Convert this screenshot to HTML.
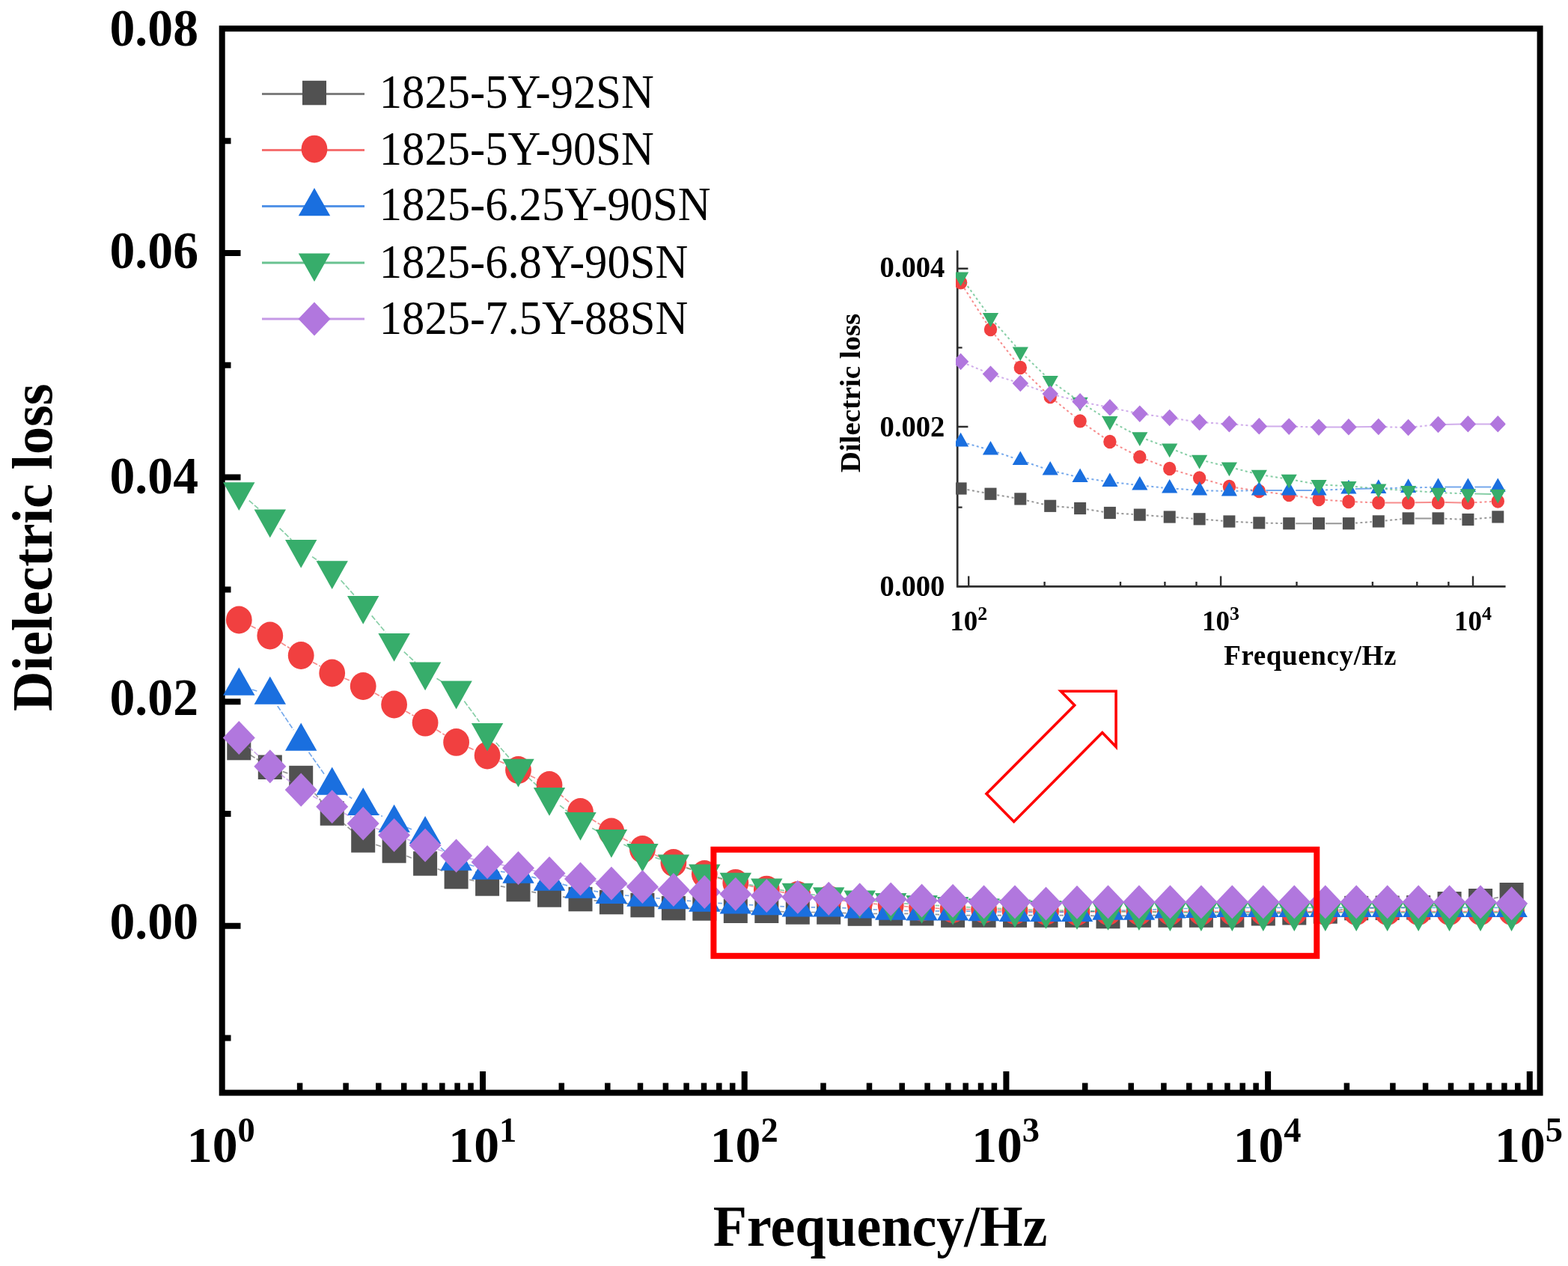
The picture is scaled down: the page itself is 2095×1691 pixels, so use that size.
<!DOCTYPE html>
<html lang="en"><head><meta charset="utf-8"><title>Dielectric loss vs Frequency</title>
<style>
html,body{margin:0;padding:0;background:#fff;}
body{width:2095px;height:1691px;overflow:hidden;}
svg{display:block;filter:blur(0.55px);}
text{font-family:"Liberation Serif","Times New Roman",serif;fill:#000;}
.b{font-weight:bold;}
</style></head><body>
<svg width="2095" height="1691" viewBox="0 0 2095 1691">
<rect width="2095" height="1691" fill="#fff"/>
<g id="main-axes" stroke="#000" fill="none">
<rect x="296.7" y="38.2" width="1760.9" height="1421.4" stroke-width="8"/>
<path d="M296.7 1236.8H321.5M296.7 937.2H321.5M296.7 637.6H321.5M296.7 338.1H321.5" stroke-width="8"/>
<path d="M296.7 1386.6H308.5M296.7 1087H308.5M296.7 787.4H308.5M296.7 487.8H308.5M296.7 188.3H308.5" stroke-width="8"/>
<path d="M645 1459.6V1431M994.7 1459.6V1431M1344.4 1459.6V1431M1694.1 1459.6V1431M2043.8 1459.6V1431" stroke-width="8"/>
<path d="M400.6 1459.6V1446.5M462.1 1459.6V1446.5M505.8 1459.6V1446.5M539.7 1459.6V1446.5M567.4 1459.6V1446.5M590.8 1459.6V1446.5M611.1 1459.6V1446.5M629 1459.6V1446.5M750.3 1459.6V1446.5M811.8 1459.6V1446.5M855.5 1459.6V1446.5M889.4 1459.6V1446.5M917.1 1459.6V1446.5M940.5 1459.6V1446.5M960.8 1459.6V1446.5M978.7 1459.6V1446.5M1100 1459.6V1446.5M1161.5 1459.6V1446.5M1205.2 1459.6V1446.5M1239.1 1459.6V1446.5M1266.8 1459.6V1446.5M1290.2 1459.6V1446.5M1310.5 1459.6V1446.5M1328.4 1459.6V1446.5M1449.7 1459.6V1446.5M1511.2 1459.6V1446.5M1554.9 1459.6V1446.5M1588.8 1459.6V1446.5M1616.5 1459.6V1446.5M1639.9 1459.6V1446.5M1660.2 1459.6V1446.5M1678.1 1459.6V1446.5M1799.4 1459.6V1446.5M1860.9 1459.6V1446.5M1904.6 1459.6V1446.5M1938.5 1459.6V1446.5M1966.2 1459.6V1446.5M1989.6 1459.6V1446.5M2009.9 1459.6V1446.5M2027.8 1459.6V1446.5" stroke-width="7.5"/>
</g>
<g id="main-data">
<path d="M334.6 1008.5L345.5 1015.3M377.8 1030.6L385.2 1033.2M414.1 1052.6L431.9 1072.9M457.3 1098.3L471.6 1110.7M502.2 1128.3L509.6 1130.7M543.3 1143.3L551.5 1146.7M584.7 1160.5L593 1164M627.1 1175L633.5 1176.5M668.8 1183.7L674.8 1184.8M710.2 1191.2L716.3 1192.3M751.8 1197.9L757.6 1198.6M793.4 1202.7L799 1203.3M834.9 1206.7L840.5 1207.3M876.3 1210.7L882 1211.3M917.9 1213.2L923.4 1213.3M959.3 1214.9L964.9 1215.4M1042.3 1217.5L1047.8 1217.8M1125.2 1219.4L1130.7 1219.7M1249.6 1221.3L1255.1 1221.6M1457 1223.2L1462.5 1223.4M1498.4 1223.4L1503.9 1223.2M1664.3 1221.6L1669.8 1221.3M1705.8 1219.8L1711.3 1219.7M1747.3 1218.5L1752.8 1218.2M1788.6 1215.6L1794.3 1214.9M1871.7 1212.5L1877.2 1212.4M1913 1210L1918.8 1209.4M1954.5 1205.5L1960.2 1204.9M1995.8 1199.8L2001.9 1198.6" stroke="#515151" stroke-width="1.7" fill="none" stroke-opacity="0.6" stroke-dasharray="7 2.5"/>
<path d="M1000.8 1216.8L1006.3 1216.8M1083.8 1218.5L1089.2 1218.5M1166.7 1220.5L1172.2 1220.4M1208.2 1220.3L1213.6 1220.3M1291.1 1222.6L1296.6 1222.6M1332.6 1222.6L1338 1222.6M1374 1222.6L1379.5 1222.6M1415.5 1222.6L1421 1222.6M1539.9 1222.6L1545.4 1222.6M1581.4 1222.6L1586.9 1222.6M1622.9 1222.6L1628.3 1222.6M1830.2 1212.9L1835.7 1212.8" stroke="#515151" stroke-width="1.7" fill="none" stroke-opacity="0.6"/>
<rect x="303.3" y="982.8" width="32" height="32.5" fill="#515151"/>
<rect x="344.8" y="1008.5" width="32" height="32.5" fill="#515151"/>
<rect x="386.2" y="1022.8" width="32" height="32.5" fill="#515151"/>
<rect x="427.7" y="1070.2" width="32" height="32.5" fill="#515151"/>
<rect x="469.2" y="1106.2" width="32" height="32.5" fill="#515151"/>
<rect x="510.6" y="1120.2" width="32" height="32.5" fill="#515151"/>
<rect x="552.1" y="1137.2" width="32" height="32.5" fill="#515151"/>
<rect x="593.6" y="1154.8" width="32" height="32.5" fill="#515151"/>
<rect x="635.1" y="1164.2" width="32" height="32.5" fill="#515151"/>
<rect x="676.5" y="1171.8" width="32" height="32.5" fill="#515151"/>
<rect x="718" y="1179.2" width="32" height="32.5" fill="#515151"/>
<rect x="759.5" y="1184.8" width="32" height="32.5" fill="#515151"/>
<rect x="800.9" y="1188.8" width="32" height="32.5" fill="#515151"/>
<rect x="842.4" y="1192.8" width="32" height="32.5" fill="#515151"/>
<rect x="883.9" y="1196.8" width="32" height="32.5" fill="#515151"/>
<rect x="925.3" y="1197.2" width="32" height="32.5" fill="#515151"/>
<rect x="966.8" y="1200.5" width="32" height="32.5" fill="#515151"/>
<rect x="1008.3" y="1200.5" width="32" height="32.5" fill="#515151"/>
<rect x="1049.8" y="1202.2" width="32" height="32.5" fill="#515151"/>
<rect x="1091.2" y="1202.2" width="32" height="32.5" fill="#515151"/>
<rect x="1132.7" y="1204.3" width="32" height="32.5" fill="#515151"/>
<rect x="1174.2" y="1204" width="32" height="32.5" fill="#515151"/>
<rect x="1215.6" y="1204" width="32" height="32.5" fill="#515151"/>
<rect x="1257.1" y="1206.3" width="32" height="32.5" fill="#515151"/>
<rect x="1298.6" y="1206.3" width="32" height="32.5" fill="#515151"/>
<rect x="1340" y="1206.3" width="32" height="32.5" fill="#515151"/>
<rect x="1381.5" y="1206.3" width="32" height="32.5" fill="#515151"/>
<rect x="1423" y="1206.3" width="32" height="32.5" fill="#515151"/>
<rect x="1464.5" y="1207.8" width="32" height="32.5" fill="#515151"/>
<rect x="1505.9" y="1206.3" width="32" height="32.5" fill="#515151"/>
<rect x="1547.4" y="1206.3" width="32" height="32.5" fill="#515151"/>
<rect x="1588.9" y="1206.3" width="32" height="32.5" fill="#515151"/>
<rect x="1630.3" y="1206.3" width="32" height="32.5" fill="#515151"/>
<rect x="1671.8" y="1204" width="32" height="32.5" fill="#515151"/>
<rect x="1713.3" y="1203" width="32" height="32.5" fill="#515151"/>
<rect x="1754.8" y="1201.2" width="32" height="32.5" fill="#515151"/>
<rect x="1796.2" y="1196.8" width="32" height="32.5" fill="#515151"/>
<rect x="1837.7" y="1196.5" width="32" height="32.5" fill="#515151"/>
<rect x="1879.2" y="1196" width="32" height="32.5" fill="#515151"/>
<rect x="1920.6" y="1191" width="32" height="32.5" fill="#515151"/>
<rect x="1962.1" y="1187" width="32" height="32.5" fill="#515151"/>
<rect x="2003.6" y="1179" width="32" height="32.5" fill="#515151"/>
<path d="M335.4 836.1L344.7 840.9M375.9 858.7L387.1 865.8M417.9 884.4L428 890.1M460.3 906L468.6 909.5M500.7 925.7L511.2 931.8M542.2 950.1L552.6 956.1M583.3 974.8L594.4 981.8M626.2 998.4L634.5 1002M667.3 1016.7L676.2 1020.8M708.7 1036.3L717.8 1040.7M747.6 1060.3L761.9 1072.7M790.6 1094.2L801.8 1101.3M832.6 1119.9L842.7 1125.6M874.9 1141.7L883.4 1145.3M916.8 1158.6L924.4 1161.4M958.7 1172.4L965.5 1174.4M1000.4 1183L1006.7 1184.4M1042 1191.2L1048 1192.3M1083.6 1197.7L1089.4 1198.5M1125.1 1202.9L1130.8 1203.5M1166.6 1207.2L1172.2 1207.7M1208.1 1210.6L1213.7 1211M1249.6 1213.2L1255.1 1213.5M1332.6 1215.5L1338.1 1215.7M1374 1216.8L1379.5 1216.9M1415.5 1217.6L1421 1217.6M1457 1217.8L1462.5 1217.8" stroke="#F14040" stroke-width="1.7" fill="none" stroke-opacity="0.6" stroke-dasharray="7 2.5"/>
<path d="M1291.1 1214.6L1296.6 1214.6M1498.5 1217.6L1503.9 1217.6M1539.9 1217.6L1545.4 1217.6M1581.4 1217.6L1586.9 1217.6M1622.9 1217.6L1628.3 1217.6M1664.3 1217.6L1669.8 1217.6M1705.8 1217.6L1711.3 1217.6M1747.3 1217.6L1752.8 1217.6M1788.8 1217.6L1794.2 1217.6M1830.2 1217.6L1835.7 1217.6M1871.7 1217.6L1877.2 1217.6M1913.2 1217.6L1918.6 1217.6M1954.6 1217.6L1960.1 1217.6M1996.1 1217.6L2001.6 1217.6" stroke="#F14040" stroke-width="1.7" fill="none" stroke-opacity="0.6"/>
<ellipse cx="319.3" cy="828" rx="17.4" ry="18.4" fill="#F14040"/>
<ellipse cx="360.8" cy="849" rx="17.4" ry="18.4" fill="#F14040"/>
<ellipse cx="402.2" cy="875.5" rx="17.4" ry="18.4" fill="#F14040"/>
<ellipse cx="443.7" cy="899" rx="17.4" ry="18.4" fill="#F14040"/>
<ellipse cx="485.2" cy="916.5" rx="17.4" ry="18.4" fill="#F14040"/>
<ellipse cx="526.6" cy="941" rx="17.4" ry="18.4" fill="#F14040"/>
<ellipse cx="568.1" cy="965.2" rx="17.4" ry="18.4" fill="#F14040"/>
<ellipse cx="609.6" cy="991.4" rx="17.4" ry="18.4" fill="#F14040"/>
<ellipse cx="651.1" cy="1009" rx="17.4" ry="18.4" fill="#F14040"/>
<ellipse cx="692.5" cy="1028.5" rx="17.4" ry="18.4" fill="#F14040"/>
<ellipse cx="734" cy="1048.5" rx="17.4" ry="18.4" fill="#F14040"/>
<ellipse cx="775.5" cy="1084.5" rx="17.4" ry="18.4" fill="#F14040"/>
<ellipse cx="816.9" cy="1111" rx="17.4" ry="18.4" fill="#F14040"/>
<ellipse cx="858.4" cy="1134.5" rx="17.4" ry="18.4" fill="#F14040"/>
<ellipse cx="899.9" cy="1152.5" rx="17.4" ry="18.4" fill="#F14040"/>
<ellipse cx="941.3" cy="1167.5" rx="17.4" ry="18.4" fill="#F14040"/>
<ellipse cx="982.8" cy="1179.3" rx="17.4" ry="18.4" fill="#F14040"/>
<ellipse cx="1024.3" cy="1188.1" rx="17.4" ry="18.4" fill="#F14040"/>
<ellipse cx="1065.8" cy="1195.4" rx="17.4" ry="18.4" fill="#F14040"/>
<ellipse cx="1107.2" cy="1200.9" rx="17.4" ry="18.4" fill="#F14040"/>
<ellipse cx="1148.7" cy="1205.5" rx="17.4" ry="18.4" fill="#F14040"/>
<ellipse cx="1190.2" cy="1209.4" rx="17.4" ry="18.4" fill="#F14040"/>
<ellipse cx="1231.6" cy="1212.3" rx="17.4" ry="18.4" fill="#F14040"/>
<ellipse cx="1273.1" cy="1214.5" rx="17.4" ry="18.4" fill="#F14040"/>
<ellipse cx="1314.6" cy="1214.8" rx="17.4" ry="18.4" fill="#F14040"/>
<ellipse cx="1356" cy="1216.4" rx="17.4" ry="18.4" fill="#F14040"/>
<ellipse cx="1397.5" cy="1217.2" rx="17.4" ry="18.4" fill="#F14040"/>
<ellipse cx="1439" cy="1218" rx="17.4" ry="18.4" fill="#F14040"/>
<ellipse cx="1480.5" cy="1217.6" rx="17.4" ry="18.4" fill="#F14040"/>
<ellipse cx="1521.9" cy="1217.6" rx="17.4" ry="18.4" fill="#F14040"/>
<ellipse cx="1563.4" cy="1217.6" rx="17.4" ry="18.4" fill="#F14040"/>
<ellipse cx="1604.9" cy="1217.6" rx="17.4" ry="18.4" fill="#F14040"/>
<ellipse cx="1646.3" cy="1217.6" rx="17.4" ry="18.4" fill="#F14040"/>
<ellipse cx="1687.8" cy="1217.6" rx="17.4" ry="18.4" fill="#F14040"/>
<ellipse cx="1729.3" cy="1217.6" rx="17.4" ry="18.4" fill="#F14040"/>
<ellipse cx="1770.8" cy="1217.6" rx="17.4" ry="18.4" fill="#F14040"/>
<ellipse cx="1812.2" cy="1217.6" rx="17.4" ry="18.4" fill="#F14040"/>
<ellipse cx="1853.7" cy="1217.6" rx="17.4" ry="18.4" fill="#F14040"/>
<ellipse cx="1895.2" cy="1217.6" rx="17.4" ry="18.4" fill="#F14040"/>
<ellipse cx="1936.6" cy="1217.6" rx="17.4" ry="18.4" fill="#F14040"/>
<ellipse cx="1978.1" cy="1217.6" rx="17.4" ry="18.4" fill="#F14040"/>
<ellipse cx="2019.6" cy="1217.6" rx="17.4" ry="18.4" fill="#F14040"/>
<path d="M336.6 921L343.5 923M370.8 943L392.2 975M412.6 1004.7L433.4 1034.3M458.7 1058.9L470.2 1066.5M501 1085L510.8 1090.4M543.5 1105.3L551.2 1108.1M581.8 1126.1L595.9 1138.3M626.9 1155L633.8 1157M668.9 1164.2L674.7 1164.8M710 1171.2L716.5 1172.8M751.5 1181.2L758 1182.8M793.2 1190.2L799.2 1191.2M834.9 1196L840.5 1196.4M876.3 1199.6L881.9 1200M917.8 1203.1L923.4 1203.5M959.3 1206.3L964.9 1206.6M1000.8 1208.6L1006.3 1208.9M1042.3 1210.6L1047.8 1210.8M1125.2 1212.7L1130.7 1212.9M1166.7 1214.8L1172.2 1215M1208.2 1216.3L1213.6 1216.5M1291.1 1217.1L1296.6 1217.2M1332.6 1217.8L1338.1 1218M1457 1217.3L1462.5 1217M1539.9 1215L1545.4 1214.7M1581.4 1213.5L1586.9 1213.5M1622.9 1212.9L1628.3 1212.7" stroke="#1A6FDF" stroke-width="1.7" fill="none" stroke-opacity="0.6" stroke-dasharray="7 2.5"/>
<path d="M1083.8 1211.8L1089.2 1211.8M1249.6 1216.8L1255.1 1216.8M1374 1218.3L1379.5 1218.3M1415.5 1218.3L1421 1218.3M1498.5 1216L1503.9 1216M1664.3 1212.3L1669.8 1212.3M1705.8 1212.3L1711.3 1212.3M1747.3 1212.3L1752.8 1212.3M1788.8 1212.3L1794.2 1212.3M1830.2 1212.3L1835.7 1212.3M1871.7 1212.3L1877.2 1212.3M1913.2 1212.3L1918.6 1212.3M1954.6 1212.3L1960.1 1212.3M1996.1 1212.3L2001.6 1212.3" stroke="#1A6FDF" stroke-width="1.7" fill="none" stroke-opacity="0.6"/>
<polygon points="319.3,891.5 340.5,928.7 298.1,928.7" fill="#1A6FDF"/>
<polygon points="360.8,903.5 382,940.7 339.6,940.7" fill="#1A6FDF"/>
<polygon points="402.2,965.5 423.4,1002.7 381,1002.7" fill="#1A6FDF"/>
<polygon points="443.7,1024.5 464.9,1061.7 422.5,1061.7" fill="#1A6FDF"/>
<polygon points="485.2,1051.9 506.4,1089.1 464,1089.1" fill="#1A6FDF"/>
<polygon points="526.6,1074.5 547.9,1111.7 505.4,1111.7" fill="#1A6FDF"/>
<polygon points="568.1,1089.9 589.3,1127.1 546.9,1127.1" fill="#1A6FDF"/>
<polygon points="609.6,1125.5 630.8,1162.7 588.4,1162.7" fill="#1A6FDF"/>
<polygon points="651.1,1137.5 672.3,1174.7 629.9,1174.7" fill="#1A6FDF"/>
<polygon points="692.5,1142.5 713.7,1179.7 671.3,1179.7" fill="#1A6FDF"/>
<polygon points="734,1152.5 755.2,1189.7 712.8,1189.7" fill="#1A6FDF"/>
<polygon points="775.5,1162.5 796.7,1199.7 754.3,1199.7" fill="#1A6FDF"/>
<polygon points="816.9,1169.9 838.1,1207.1 795.7,1207.1" fill="#1A6FDF"/>
<polygon points="858.4,1173.5 879.6,1210.7 837.2,1210.7" fill="#1A6FDF"/>
<polygon points="899.9,1177.1 921.1,1214.3 878.7,1214.3" fill="#1A6FDF"/>
<polygon points="941.3,1180.5 962.5,1217.7 920.1,1217.7" fill="#1A6FDF"/>
<polygon points="982.8,1183.4 1004,1220.6 961.6,1220.6" fill="#1A6FDF"/>
<polygon points="1024.3,1185.1 1045.5,1222.3 1003.1,1222.3" fill="#1A6FDF"/>
<polygon points="1065.8,1187.3 1087,1224.5 1044.6,1224.5" fill="#1A6FDF"/>
<polygon points="1107.2,1187.3 1128.4,1224.5 1086,1224.5" fill="#1A6FDF"/>
<polygon points="1148.7,1189.3 1169.9,1226.5 1127.5,1226.5" fill="#1A6FDF"/>
<polygon points="1190.2,1191.5 1211.4,1228.7 1169,1228.7" fill="#1A6FDF"/>
<polygon points="1231.6,1192.3 1252.8,1229.5 1210.4,1229.5" fill="#1A6FDF"/>
<polygon points="1273.1,1192.3 1294.3,1229.5 1251.9,1229.5" fill="#1A6FDF"/>
<polygon points="1314.6,1193 1335.8,1230.2 1293.4,1230.2" fill="#1A6FDF"/>
<polygon points="1356,1193.8 1377.2,1231 1334.8,1231" fill="#1A6FDF"/>
<polygon points="1397.5,1193.8 1418.7,1231 1376.3,1231" fill="#1A6FDF"/>
<polygon points="1439,1193.8 1460.2,1231 1417.8,1231" fill="#1A6FDF"/>
<polygon points="1480.5,1191.5 1501.7,1228.7 1459.3,1228.7" fill="#1A6FDF"/>
<polygon points="1521.9,1191.5 1543.1,1228.7 1500.7,1228.7" fill="#1A6FDF"/>
<polygon points="1563.4,1189.2 1584.6,1226.4 1542.2,1226.4" fill="#1A6FDF"/>
<polygon points="1604.9,1188.8 1626.1,1226 1583.7,1226" fill="#1A6FDF"/>
<polygon points="1646.3,1187.8 1667.5,1225 1625.1,1225" fill="#1A6FDF"/>
<polygon points="1687.8,1187.8 1709,1225 1666.6,1225" fill="#1A6FDF"/>
<polygon points="1729.3,1187.8 1750.5,1225 1708.1,1225" fill="#1A6FDF"/>
<polygon points="1770.8,1187.8 1792,1225 1749.5,1225" fill="#1A6FDF"/>
<polygon points="1812.2,1187.8 1833.4,1225 1791,1225" fill="#1A6FDF"/>
<polygon points="1853.7,1187.8 1874.9,1225 1832.5,1225" fill="#1A6FDF"/>
<polygon points="1895.2,1187.8 1916.4,1225 1874,1225" fill="#1A6FDF"/>
<polygon points="1936.6,1187.8 1957.8,1225 1915.4,1225" fill="#1A6FDF"/>
<polygon points="1978.1,1187.8 1999.3,1225 1956.9,1225" fill="#1A6FDF"/>
<polygon points="2019.6,1187.8 2040.8,1225 1998.4,1225" fill="#1A6FDF"/>
<path d="M332.8 668.6L347.2 681.1M373.6 705.6L389.4 720.9M417.1 743.6L428.8 751.6M455.6 775.2L473.2 795M496.7 822.4L515.2 844.6M539.8 870.7L554.9 884.8M583.5 906.3L594.2 912.7M620.3 936.5L640.4 963.9M662.8 992L680.7 1012.7M705.8 1038.5L720.8 1052.4M748.1 1075.8L761.4 1086.4M791.2 1106.3L801.2 1111.8M833.3 1128L842 1132M875.4 1145.4L882.9 1148.1M917.1 1159.4L924.2 1161.6M958.7 1171.7L965.4 1173.5M1000.5 1181.5L1006.6 1182.6M1042.1 1188.7L1048 1189.6M1083.6 1194.7L1089.4 1195.5M1125.1 1199.6L1130.8 1200.1M1166.6 1203.4L1172.2 1203.9M1208.1 1206.8L1213.7 1207.2M1249.6 1209.4L1255.1 1209.7M1291.1 1211.6L1296.6 1211.8M1332.6 1213.4L1338.1 1213.6M1374 1214.8L1379.5 1215M1415.5 1216L1421 1216.1M1457 1216.9L1462.5 1217.1M1539.9 1218.2L1545.4 1218.4" stroke="#37AD6B" stroke-width="1.7" fill="none" stroke-opacity="0.6" stroke-dasharray="7 2.5"/>
<path d="M1498.5 1217.6L1503.9 1217.7M1581.4 1218.8L1586.9 1218.8M1622.9 1218.8L1628.3 1218.8M1664.3 1218.8L1669.8 1218.8M1705.8 1218.8L1711.3 1218.8M1747.3 1218.8L1752.8 1218.8M1788.8 1218.8L1794.2 1218.8M1830.2 1218.8L1835.7 1218.8M1871.7 1218.8L1877.2 1218.8M1913.2 1218.8L1918.6 1218.8M1954.6 1218.8L1960.1 1218.8M1996.1 1218.8L2001.6 1218.8" stroke="#37AD6B" stroke-width="1.7" fill="none" stroke-opacity="0.6"/>
<polygon points="319.3,681.9 340.5,644.2 298.1,644.2" fill="#37AD6B"/>
<polygon points="360.8,718.2 382,680.5 339.6,680.5" fill="#37AD6B"/>
<polygon points="402.2,758.7 423.4,721 381,721" fill="#37AD6B"/>
<polygon points="443.7,786.9 464.9,749.2 422.5,749.2" fill="#37AD6B"/>
<polygon points="485.2,833.7 506.4,796 464,796" fill="#37AD6B"/>
<polygon points="526.6,883.7 547.9,846 505.4,846" fill="#37AD6B"/>
<polygon points="568.1,922.2 589.3,884.5 546.9,884.5" fill="#37AD6B"/>
<polygon points="609.6,947.2 630.8,909.5 588.4,909.5" fill="#37AD6B"/>
<polygon points="651.1,1003.6 672.3,965.9 629.9,965.9" fill="#37AD6B"/>
<polygon points="692.5,1051.5 713.7,1013.8 671.3,1013.8" fill="#37AD6B"/>
<polygon points="734,1089.8 755.2,1052.1 712.8,1052.1" fill="#37AD6B"/>
<polygon points="775.5,1122.8 796.7,1085.1 754.3,1085.1" fill="#37AD6B"/>
<polygon points="816.9,1145.7 838.1,1108 795.7,1108" fill="#37AD6B"/>
<polygon points="858.4,1164.7 879.6,1127 837.2,1127" fill="#37AD6B"/>
<polygon points="899.9,1179.2 921.1,1141.5 878.7,1141.5" fill="#37AD6B"/>
<polygon points="941.3,1192.2 962.5,1154.5 920.1,1154.5" fill="#37AD6B"/>
<polygon points="982.8,1203.4 1004,1165.7 961.6,1165.7" fill="#37AD6B"/>
<polygon points="1024.3,1211.1 1045.5,1173.4 1003.1,1173.4" fill="#37AD6B"/>
<polygon points="1065.8,1217.5 1087,1179.8 1044.6,1179.8" fill="#37AD6B"/>
<polygon points="1107.2,1223 1128.4,1185.3 1086,1185.3" fill="#37AD6B"/>
<polygon points="1148.7,1227.1 1169.9,1189.4 1127.5,1189.4" fill="#37AD6B"/>
<polygon points="1190.2,1230.7 1211.4,1193 1169,1193" fill="#37AD6B"/>
<polygon points="1231.6,1233.7 1252.8,1196 1210.4,1196" fill="#37AD6B"/>
<polygon points="1273.1,1235.8 1294.3,1198.1 1251.9,1198.1" fill="#37AD6B"/>
<polygon points="1314.6,1238 1335.8,1200.3 1293.4,1200.3" fill="#37AD6B"/>
<polygon points="1356,1239.4 1377.2,1201.7 1334.8,1201.7" fill="#37AD6B"/>
<polygon points="1397.5,1240.8 1418.7,1203.1 1376.3,1203.1" fill="#37AD6B"/>
<polygon points="1439,1241.7 1460.2,1204 1417.8,1204" fill="#37AD6B"/>
<polygon points="1480.5,1242.7 1501.7,1205 1459.3,1205" fill="#37AD6B"/>
<polygon points="1521.9,1243 1543.1,1205.3 1500.7,1205.3" fill="#37AD6B"/>
<polygon points="1563.4,1244 1584.6,1206.3 1542.2,1206.3" fill="#37AD6B"/>
<polygon points="1604.9,1244 1626.1,1206.3 1583.7,1206.3" fill="#37AD6B"/>
<polygon points="1646.3,1244 1667.5,1206.3 1625.1,1206.3" fill="#37AD6B"/>
<polygon points="1687.8,1244 1709,1206.3 1666.6,1206.3" fill="#37AD6B"/>
<polygon points="1729.3,1244 1750.5,1206.3 1708.1,1206.3" fill="#37AD6B"/>
<polygon points="1770.8,1244 1792,1206.3 1749.5,1206.3" fill="#37AD6B"/>
<polygon points="1812.2,1244 1833.4,1206.3 1791,1206.3" fill="#37AD6B"/>
<polygon points="1853.7,1244 1874.9,1206.3 1832.5,1206.3" fill="#37AD6B"/>
<polygon points="1895.2,1244 1916.4,1206.3 1874,1206.3" fill="#37AD6B"/>
<polygon points="1936.6,1244 1957.8,1206.3 1915.4,1206.3" fill="#37AD6B"/>
<polygon points="1978.1,1244 1999.3,1206.3 1956.9,1206.3" fill="#37AD6B"/>
<polygon points="2019.6,1244 2040.8,1206.3 1998.4,1206.3" fill="#37AD6B"/>
<path d="M332.6 997.8L347.5 1011.5M375.1 1034.5L387.9 1044.2M418.1 1063.6L427.9 1068.9M459.5 1086.1L469.4 1091.4M502.1 1106.3L509.8 1109.1M543.8 1121L551 1123.4M585.2 1134.8L592.5 1137.2M627.2 1146.6L633.4 1147.9M668.7 1154.9L674.9 1156.1M710.3 1162.5L716.3 1163.5M751.7 1169.7L757.8 1170.8M793.3 1176.6L799.1 1177.4M834.8 1181.9L840.5 1182.6M876.3 1186.2L882 1186.8M917.8 1189.8L923.4 1190.2M959.3 1192.7L964.9 1193M1000.8 1195.2L1006.3 1195.6M1042.3 1197.3L1047.8 1197.6M1083.7 1199.2L1089.3 1199.5M1125.2 1201L1130.7 1201.2M1166.7 1201.5L1172.2 1201.3M1208.1 1201.9L1213.7 1202.1M1291.1 1204L1296.6 1204.1M1374 1205.8L1379.5 1206M1415.5 1206.3L1421 1206M1457 1205.1L1462.5 1205M1996.1 1205.7L2001.6 1205.9" stroke="#B177DE" stroke-width="1.7" fill="none" stroke-opacity="0.6" stroke-dasharray="7 2.5"/>
<path d="M1249.6 1203.1L1255.1 1203.2M1332.6 1204.8L1338 1204.8M1498.5 1204.8L1503.9 1204.8M1539.9 1204.8L1545.4 1204.8M1581.4 1204.8L1586.9 1204.8M1622.9 1204.8L1628.3 1204.8M1664.3 1204.8L1669.8 1204.8M1705.8 1204.8L1711.3 1204.8M1747.3 1204.8L1752.8 1204.8M1788.8 1204.8L1794.2 1204.8M1830.2 1204.8L1835.7 1204.8M1871.7 1204.8L1877.2 1204.8M1913.2 1204.8L1918.6 1204.8M1954.6 1204.8L1960.1 1204.8" stroke="#B177DE" stroke-width="1.7" fill="none" stroke-opacity="0.6"/>
<polygon points="319.3,963.1 340.8,985.6 319.3,1008.1 297.8,985.6" fill="#B177DE"/>
<polygon points="360.8,1001.2 382.3,1023.7 360.8,1046.2 339.3,1023.7" fill="#B177DE"/>
<polygon points="402.2,1032.5 423.7,1055 402.2,1077.5 380.7,1055" fill="#B177DE"/>
<polygon points="443.7,1055 465.2,1077.5 443.7,1100 422.2,1077.5" fill="#B177DE"/>
<polygon points="485.2,1077.5 506.7,1100 485.2,1122.5 463.7,1100" fill="#B177DE"/>
<polygon points="526.6,1092.9 548.1,1115.4 526.6,1137.9 505.1,1115.4" fill="#B177DE"/>
<polygon points="568.1,1106.5 589.6,1129 568.1,1151.5 546.6,1129" fill="#B177DE"/>
<polygon points="609.6,1120.5 631.1,1143 609.6,1165.5 588.1,1143" fill="#B177DE"/>
<polygon points="651.1,1129 672.6,1151.5 651.1,1174 629.6,1151.5" fill="#B177DE"/>
<polygon points="692.5,1137 714,1159.5 692.5,1182 671,1159.5" fill="#B177DE"/>
<polygon points="734,1144 755.5,1166.5 734,1189 712.5,1166.5" fill="#B177DE"/>
<polygon points="775.5,1151.5 797,1174 775.5,1196.5 754,1174" fill="#B177DE"/>
<polygon points="816.9,1157.5 838.4,1180 816.9,1202.5 795.4,1180" fill="#B177DE"/>
<polygon points="858.4,1162 879.9,1184.5 858.4,1207 836.9,1184.5" fill="#B177DE"/>
<polygon points="899.9,1166 921.4,1188.5 899.9,1211 878.4,1188.5" fill="#B177DE"/>
<polygon points="941.3,1169 962.8,1191.5 941.3,1214 919.8,1191.5" fill="#B177DE"/>
<polygon points="982.8,1171.7 1004.3,1194.2 982.8,1216.7 961.3,1194.2" fill="#B177DE"/>
<polygon points="1024.3,1174.1 1045.8,1196.6 1024.3,1219.1 1002.8,1196.6" fill="#B177DE"/>
<polygon points="1065.8,1175.8 1087.3,1198.3 1065.8,1220.8 1044.3,1198.3" fill="#B177DE"/>
<polygon points="1107.2,1177.8 1128.7,1200.3 1107.2,1222.8 1085.7,1200.3" fill="#B177DE"/>
<polygon points="1148.7,1179.3 1170.2,1201.8 1148.7,1224.3 1127.2,1201.8" fill="#B177DE"/>
<polygon points="1190.2,1178.5 1211.7,1201 1190.2,1223.5 1168.7,1201" fill="#B177DE"/>
<polygon points="1231.6,1180.5 1253.1,1203 1231.6,1225.5 1210.1,1203" fill="#B177DE"/>
<polygon points="1273.1,1180.8 1294.6,1203.3 1273.1,1225.8 1251.6,1203.3" fill="#B177DE"/>
<polygon points="1314.6,1182.3 1336.1,1204.8 1314.6,1227.3 1293.1,1204.8" fill="#B177DE"/>
<polygon points="1356,1182.3 1377.5,1204.8 1356,1227.3 1334.5,1204.8" fill="#B177DE"/>
<polygon points="1397.5,1184.5 1419,1207 1397.5,1229.5 1376,1207" fill="#B177DE"/>
<polygon points="1439,1182.8 1460.5,1205.3 1439,1227.8 1417.5,1205.3" fill="#B177DE"/>
<polygon points="1480.5,1182.3 1502,1204.8 1480.5,1227.3 1459,1204.8" fill="#B177DE"/>
<polygon points="1521.9,1182.3 1543.4,1204.8 1521.9,1227.3 1500.4,1204.8" fill="#B177DE"/>
<polygon points="1563.4,1182.3 1584.9,1204.8 1563.4,1227.3 1541.9,1204.8" fill="#B177DE"/>
<polygon points="1604.9,1182.3 1626.4,1204.8 1604.9,1227.3 1583.4,1204.8" fill="#B177DE"/>
<polygon points="1646.3,1182.3 1667.8,1204.8 1646.3,1227.3 1624.8,1204.8" fill="#B177DE"/>
<polygon points="1687.8,1182.3 1709.3,1204.8 1687.8,1227.3 1666.3,1204.8" fill="#B177DE"/>
<polygon points="1729.3,1182.3 1750.8,1204.8 1729.3,1227.3 1707.8,1204.8" fill="#B177DE"/>
<polygon points="1770.8,1182.3 1792.2,1204.8 1770.8,1227.3 1749.2,1204.8" fill="#B177DE"/>
<polygon points="1812.2,1182.3 1833.7,1204.8 1812.2,1227.3 1790.7,1204.8" fill="#B177DE"/>
<polygon points="1853.7,1182.3 1875.2,1204.8 1853.7,1227.3 1832.2,1204.8" fill="#B177DE"/>
<polygon points="1895.2,1182.3 1916.7,1204.8 1895.2,1227.3 1873.7,1204.8" fill="#B177DE"/>
<polygon points="1936.6,1182.3 1958.1,1204.8 1936.6,1227.3 1915.1,1204.8" fill="#B177DE"/>
<polygon points="1978.1,1182.3 1999.6,1204.8 1978.1,1227.3 1956.6,1204.8" fill="#B177DE"/>
<polygon points="2019.6,1184.3 2041.1,1206.8 2019.6,1229.3 1998.1,1206.8" fill="#B177DE"/>
</g>
<rect x="953.4" y="1134.8" width="805.9" height="142" fill="none" stroke="#FF0000" stroke-width="8"/>
<polygon points="1318,1060.2 1435.7,942 1417.4,923.3 1491.1,923.3 1491.1,997.6 1472.8,978.5 1354.7,1097.5" fill="none" stroke="#FF0000" stroke-width="3.6" stroke-linejoin="miter"/>
<g class="b" font-size="67.7" text-anchor="end">
<text transform="translate(265,1253.9) scale(1,1.025)">0.00</text>
<text transform="translate(265,954.9) scale(1,1.025)">0.02</text>
<text transform="translate(265,659) scale(1,1.025)">0.04</text>
<text transform="translate(265,357.9) scale(1,1.025)">0.06</text>
<text transform="translate(265,60.5) scale(1,1.025)">0.08</text>
</g>
<g class="b" font-size="67.7" text-anchor="middle">
<text transform="translate(295.3,1552) scale(1,1.012)">10<tspan font-size="46.5" dy="-26.6">0</tspan></text>
<text transform="translate(644.8,1552) scale(1,1.012)">10<tspan font-size="46.5" dy="-26.6">1</tspan></text>
<text transform="translate(994.2,1552) scale(1,1.012)">10<tspan font-size="46.5" dy="-26.6">2</tspan></text>
<text transform="translate(1343.6,1552) scale(1,1.012)">10<tspan font-size="46.5" dy="-26.6">3</tspan></text>
<text transform="translate(1693.1,1552) scale(1,1.012)">10<tspan font-size="46.5" dy="-26.6">4</tspan></text>
<text transform="translate(2042.5,1552) scale(1,1.012)">10<tspan font-size="46.5" dy="-26.6">5</tspan></text>
</g>
<text class="b" font-size="74" transform="translate(1176,1664) scale(1,1.045)" text-anchor="middle">Frequency/Hz</text>
<text class="b" font-size="74" transform="translate(69.3,731.2) rotate(-90) scale(1,1.03)" text-anchor="middle">Dielectric loss</text>
<g id="legend">
<path d="M350 125.6H487" stroke="#515151" stroke-width="3" stroke-opacity="0.75" fill="none"/>
<rect x="404" y="107.8" width="32" height="32.5" fill="#515151"/>
<text font-size="60.6" transform="translate(506.8,144.3) scale(1,1.04)">1825-5Y-92SN</text>
<path d="M350 200.6H487" stroke="#F14040" stroke-width="3" stroke-opacity="0.75" fill="none"/>
<ellipse cx="420" cy="199.1" rx="17.4" ry="18.4" fill="#F14040"/>
<text font-size="60.6" transform="translate(506.8,219.6) scale(1,1.04)">1825-5Y-90SN</text>
<path d="M350 275.6H487" stroke="#1A6FDF" stroke-width="3" stroke-opacity="0.75" fill="none"/>
<polygon points="420,251.1 441.2,288.3 398.8,288.3" fill="#1A6FDF"/>
<text font-size="60.6" transform="translate(506.8,294.2) scale(1,1.04)">1825-6.25Y-90SN</text>
<path d="M350 351H487" stroke="#37AD6B" stroke-width="3" stroke-opacity="0.75" fill="none"/>
<polygon points="420,376.2 441.2,338.5 398.8,338.5" fill="#37AD6B"/>
<text font-size="60.6" transform="translate(506.8,371.4) scale(1,1.04)">1825-6.8Y-90SN</text>
<path d="M350 426H487" stroke="#B177DE" stroke-width="3" stroke-opacity="0.75" fill="none"/>
<polygon points="420,403.5 441.5,426 420,448.5 398.5,426" fill="#B177DE"/>
<text font-size="60.6" transform="translate(506.8,446) scale(1,1.04)">1825-7.5Y-88SN</text>
</g>
<g id="inset">
<g stroke="#2e2e2e" fill="none">
<path d="M1279.2 334.4V783.4H2011.6" stroke-width="2.7" stroke-linejoin="miter"/>
<path d="M1279.2 358.7H1293.4M1279.2 570H1293.4M1279.2 783.4H1293.4M1279.2 464.4H1285.6M1279.2 677.6H1285.6M1294.2 783.4V769.6M1631.1 783.4V769.6M1968 783.4V769.6M1395.6 783.4V777M1497 783.4V777M1556.4 783.4V777M1598.5 783.4V777M1732.5 783.4V777M1833.9 783.4V777M1893.3 783.4V777M1935.4 783.4V777" stroke-width="2.4"/>
</g>
<clipPath id="ic"><rect x="1277" y="330" width="734.6" height="460"/></clipPath>
<g clip-path="url(#ic)">
<path d="M1292.5 654.1L1314.6 658.1M1332.3 661.2L1354.5 664.9M1372.1 668.5L1394.5 673.7M1412.2 676.5L1434.1 678.3M1452 680.3L1474.1 683.7M1491.9 685.6L1513.8 687M1531.8 688.3L1553.7 689.8M1571.7 691.1L1593.6 692.7M1611.5 694L1633.5 695.8M1651.4 696.9L1673.3 698M1691.3 698.6L1713.2 699M1810.9 698.6L1832.8 697M1850.7 695.5L1872.7 693.3M1930.5 692.8L1952.4 693.6M1970.4 693.2L1992.3 691.2" stroke="#515151" stroke-width="2.0" fill="none" stroke-opacity="0.6" stroke-dasharray="3 3.5"/>
<path d="M1731.2 699.2L1753 699.2M1771 699.2L1792.9 699.2M1890.6 692.4L1912.5 692.4" stroke="#515151" stroke-width="2.0" fill="none" stroke-opacity="0.6"/>
<rect x="1275.6" y="644.4" width="16" height="16.2" fill="#515151"/>
<rect x="1315.5" y="651.6" width="16" height="16.2" fill="#515151"/>
<rect x="1355.3" y="658.3" width="16" height="16.2" fill="#515151"/>
<rect x="1395.2" y="667.7" width="16" height="16.2" fill="#515151"/>
<rect x="1435.1" y="670.9" width="16" height="16.2" fill="#515151"/>
<rect x="1474.9" y="676.9" width="16" height="16.2" fill="#515151"/>
<rect x="1514.8" y="679.5" width="16" height="16.2" fill="#515151"/>
<rect x="1554.7" y="682.4" width="16" height="16.2" fill="#515151"/>
<rect x="1594.6" y="685.2" width="16" height="16.2" fill="#515151"/>
<rect x="1634.4" y="688.4" width="16" height="16.2" fill="#515151"/>
<rect x="1674.3" y="690.3" width="16" height="16.2" fill="#515151"/>
<rect x="1714.2" y="691.1" width="16" height="16.2" fill="#515151"/>
<rect x="1754" y="691.1" width="16" height="16.2" fill="#515151"/>
<rect x="1793.9" y="691.1" width="16" height="16.2" fill="#515151"/>
<rect x="1833.8" y="688.3" width="16" height="16.2" fill="#515151"/>
<rect x="1873.6" y="684.3" width="16" height="16.2" fill="#515151"/>
<rect x="1913.5" y="684.3" width="16" height="16.2" fill="#515151"/>
<rect x="1953.4" y="685.9" width="16" height="16.2" fill="#515151"/>
<rect x="1993.3" y="682.3" width="16" height="16.2" fill="#515151"/>
<path d="M1288.4 385L1318.6 432.4M1329 447.1L1357.8 483.9M1369.8 497.3L1396.8 523.7M1410.2 535.7L1436.1 556.7M1450.5 567.5L1475.6 584.9M1491 594.1L1514.8 606.3M1531.2 613.7L1554.3 622.7M1571.3 628.7L1594 635.7M1611.2 640.9L1633.8 647.5M1651.3 651.3L1673.4 654.7M1691.2 657.1L1713.2 659.9M1731.1 662.3L1753.1 665.7M1771 667.7L1792.9 669.3M1810.9 670.3L1832.8 671.1M1970.4 671.1L1992.3 670.1" stroke="#F14040" stroke-width="2.0" fill="none" stroke-opacity="0.6" stroke-dasharray="3 3.5"/>
<path d="M1850.8 671.4L1872.6 671.4M1890.6 671.3L1912.5 671.1M1930.5 671.1L1952.4 671.5" stroke="#F14040" stroke-width="2.0" fill="none" stroke-opacity="0.6"/>
<ellipse cx="1283.6" cy="377.4" rx="8.7" ry="9.2" fill="#F14040"/>
<ellipse cx="1323.5" cy="440" rx="8.7" ry="9.2" fill="#F14040"/>
<ellipse cx="1363.3" cy="491" rx="8.7" ry="9.2" fill="#F14040"/>
<ellipse cx="1403.2" cy="530" rx="8.7" ry="9.2" fill="#F14040"/>
<ellipse cx="1443.1" cy="562.4" rx="8.7" ry="9.2" fill="#F14040"/>
<ellipse cx="1482.9" cy="590" rx="8.7" ry="9.2" fill="#F14040"/>
<ellipse cx="1522.8" cy="610.4" rx="8.7" ry="9.2" fill="#F14040"/>
<ellipse cx="1562.7" cy="626" rx="8.7" ry="9.2" fill="#F14040"/>
<ellipse cx="1602.6" cy="638.4" rx="8.7" ry="9.2" fill="#F14040"/>
<ellipse cx="1642.4" cy="650" rx="8.7" ry="9.2" fill="#F14040"/>
<ellipse cx="1682.3" cy="656" rx="8.7" ry="9.2" fill="#F14040"/>
<ellipse cx="1722.2" cy="661" rx="8.7" ry="9.2" fill="#F14040"/>
<ellipse cx="1762" cy="667" rx="8.7" ry="9.2" fill="#F14040"/>
<ellipse cx="1801.9" cy="670" rx="8.7" ry="9.2" fill="#F14040"/>
<ellipse cx="1841.8" cy="671.4" rx="8.7" ry="9.2" fill="#F14040"/>
<ellipse cx="1881.6" cy="671.4" rx="8.7" ry="9.2" fill="#F14040"/>
<ellipse cx="1921.5" cy="671" rx="8.7" ry="9.2" fill="#F14040"/>
<ellipse cx="1961.4" cy="671.6" rx="8.7" ry="9.2" fill="#F14040"/>
<ellipse cx="2001.3" cy="669.6" rx="8.7" ry="9.2" fill="#F14040"/>
<path d="M1292.3 592.4L1314.8 598.8M1332 604.1L1354.8 611.9M1371.9 617.7L1394.7 625.4M1412 630.4L1434.3 635.7M1452 639.1L1474 642.4M1491.9 644.7L1513.9 647.3M1531.8 649.2L1553.7 651.4M1571.7 652.9L1593.6 654.4M1611.6 655.2L1633.4 655.8M1651.4 655.8L1673.3 655.2M1771 654.5L1792.9 653.5M1850.8 652.3L1872.7 651.7M1890.6 651.3L1912.5 650.8" stroke="#1A6FDF" stroke-width="2.0" fill="none" stroke-opacity="0.6" stroke-dasharray="3 3.5"/>
<path d="M1691.3 655L1713.2 655M1731.2 655L1753 655M1810.9 652.9L1832.8 652.6M1930.5 650.6L1952.4 650.6M1970.4 650.6L1992.3 650.6" stroke="#1A6FDF" stroke-width="2.0" fill="none" stroke-opacity="0.6"/>
<polygon points="1283.6,577.8 1294.2,596.4 1273,596.4" fill="#1A6FDF"/>
<polygon points="1323.5,589 1334.1,607.6 1312.9,607.6" fill="#1A6FDF"/>
<polygon points="1363.3,602.5 1373.9,621.1 1352.7,621.1" fill="#1A6FDF"/>
<polygon points="1403.2,616 1413.8,634.6 1392.6,634.6" fill="#1A6FDF"/>
<polygon points="1443.1,625.5 1453.7,644.1 1432.5,644.1" fill="#1A6FDF"/>
<polygon points="1482.9,631.5 1493.5,650.1 1472.3,650.1" fill="#1A6FDF"/>
<polygon points="1522.8,636 1533.4,654.6 1512.2,654.6" fill="#1A6FDF"/>
<polygon points="1562.7,640 1573.3,658.6 1552.1,658.6" fill="#1A6FDF"/>
<polygon points="1602.6,642.8 1613.2,661.4 1592,661.4" fill="#1A6FDF"/>
<polygon points="1642.4,643.8 1653,662.4 1631.8,662.4" fill="#1A6FDF"/>
<polygon points="1682.3,642.8 1692.9,661.4 1671.7,661.4" fill="#1A6FDF"/>
<polygon points="1722.2,642.8 1732.8,661.4 1711.6,661.4" fill="#1A6FDF"/>
<polygon points="1762,642.8 1772.6,661.4 1751.4,661.4" fill="#1A6FDF"/>
<polygon points="1801.9,640.8 1812.5,659.4 1791.3,659.4" fill="#1A6FDF"/>
<polygon points="1841.8,640.2 1852.4,658.9 1831.2,658.9" fill="#1A6FDF"/>
<polygon points="1881.6,639.2 1892.2,657.9 1871,657.9" fill="#1A6FDF"/>
<polygon points="1921.5,638.4 1932.1,657 1910.9,657" fill="#1A6FDF"/>
<polygon points="1961.4,638.4 1972,657 1950.8,657" fill="#1A6FDF"/>
<polygon points="2001.3,638.4 2011.9,657 1990.7,657" fill="#1A6FDF"/>
<path d="M1288.9 376.9L1318.2 417M1329.4 431.1L1357.4 462.9M1369.8 476L1396.7 501.9M1410.5 513.5L1435.8 531.7M1450.7 541.8L1475.4 557.5M1490.9 566.5L1514.9 579.3M1531.2 586.7L1554.3 595.4M1571.1 601.8L1594.2 610.8M1611.3 616.1L1633.7 621.6M1651.1 626L1673.6 631.7M1691.2 635.3L1713.3 638.7M1731 641.6L1753.2 645.7M1771 647.8L1792.9 648.8M1810.9 650.1L1832.8 651.9M1850.8 653.3L1872.7 654.7M1890.6 655.9L1912.5 657.4M1930.5 658.3L1952.4 659.2" stroke="#37AD6B" stroke-width="2.0" fill="none" stroke-opacity="0.6" stroke-dasharray="3 3.5"/>
<path d="M1970.4 659.6L1992.3 659.9" stroke="#37AD6B" stroke-width="2.0" fill="none" stroke-opacity="0.6"/>
<polygon points="1283.6,382.2 1294.2,363.4 1273,363.4" fill="#37AD6B"/>
<polygon points="1323.5,436.9 1334.1,418.1 1312.9,418.1" fill="#37AD6B"/>
<polygon points="1363.3,482.3 1373.9,463.4 1352.7,463.4" fill="#37AD6B"/>
<polygon points="1403.2,520.8 1413.8,501.9 1392.6,501.9" fill="#37AD6B"/>
<polygon points="1443.1,549.6 1453.7,530.8 1432.5,530.8" fill="#37AD6B"/>
<polygon points="1482.9,574.9 1493.5,556 1472.3,556" fill="#37AD6B"/>
<polygon points="1522.8,596.1 1533.4,577.2 1512.2,577.2" fill="#37AD6B"/>
<polygon points="1562.7,611.2 1573.3,592.4 1552.1,592.4" fill="#37AD6B"/>
<polygon points="1602.6,626.6 1613.2,607.8 1592,607.8" fill="#37AD6B"/>
<polygon points="1642.4,636.3 1653,617.5 1631.8,617.5" fill="#37AD6B"/>
<polygon points="1682.3,646.6 1692.9,627.8 1671.7,627.8" fill="#37AD6B"/>
<polygon points="1722.2,652.6 1732.8,633.8 1711.6,633.8" fill="#37AD6B"/>
<polygon points="1762,659.9 1772.6,641 1751.4,641" fill="#37AD6B"/>
<polygon points="1801.9,661.9 1812.5,643 1791.3,643" fill="#37AD6B"/>
<polygon points="1841.8,665.3 1852.4,646.5 1831.2,646.5" fill="#37AD6B"/>
<polygon points="1881.6,667.9 1892.2,649 1871,649" fill="#37AD6B"/>
<polygon points="1921.5,670.6 1932.1,651.8 1910.9,651.8" fill="#37AD6B"/>
<polygon points="1961.4,672.1 1972,653.2 1950.8,653.2" fill="#37AD6B"/>
<polygon points="2001.3,672.6 2011.9,653.8 1990.7,653.8" fill="#37AD6B"/>
<path d="M1291.9 486.5L1315.2 496.1M1332.1 502.3L1354.7 509.3M1371.8 515L1394.7 523M1411.9 528.3L1434.4 534.1M1451.9 538.2L1474.1 542.6M1491.8 546.2L1514 550.8M1531.7 553.8L1553.8 556.8M1571.6 559.3L1593.7 562.7M1611.5 564.5L1633.4 565.9M1651.4 567.1L1673.3 568.7M1731.2 569.8L1753 570.4M1850.8 570.2L1872.7 570.8M1890.6 570.1L1912.6 567.9" stroke="#B177DE" stroke-width="2.0" fill="none" stroke-opacity="0.6" stroke-dasharray="3 3.5"/>
<path d="M1691.3 569.4L1713.2 569.6M1771 570.6L1792.9 570.4M1810.9 570.3L1832.8 570.1M1930.5 566.9L1952.4 566.5M1970.4 566.4L1992.3 566.4" stroke="#B177DE" stroke-width="2.0" fill="none" stroke-opacity="0.6"/>
<polygon points="1283.6,471.8 1294.3,483 1283.6,494.2 1272.8,483" fill="#B177DE"/>
<polygon points="1323.5,488.4 1334.2,499.6 1323.5,510.9 1312.7,499.6" fill="#B177DE"/>
<polygon points="1363.3,500.8 1374.1,512 1363.3,523.2 1352.6,512" fill="#B177DE"/>
<polygon points="1403.2,514.8 1414,526 1403.2,537.2 1392.5,526" fill="#B177DE"/>
<polygon points="1443.1,525.1 1453.8,536.4 1443.1,547.6 1432.3,536.4" fill="#B177DE"/>
<polygon points="1482.9,533.1 1493.7,544.4 1482.9,555.6 1472.2,544.4" fill="#B177DE"/>
<polygon points="1522.8,541.4 1533.6,552.6 1522.8,563.9 1512.1,552.6" fill="#B177DE"/>
<polygon points="1562.7,546.8 1573.4,558 1562.7,569.2 1551.9,558" fill="#B177DE"/>
<polygon points="1602.6,552.8 1613.3,564 1602.6,575.2 1591.8,564" fill="#B177DE"/>
<polygon points="1642.4,555.1 1653.2,566.4 1642.4,577.6 1631.7,566.4" fill="#B177DE"/>
<polygon points="1682.3,558.1 1693,569.4 1682.3,580.6 1671.5,569.4" fill="#B177DE"/>
<polygon points="1722.2,558.4 1732.9,569.6 1722.2,580.9 1711.4,569.6" fill="#B177DE"/>
<polygon points="1762,559.4 1772.8,570.6 1762,581.9 1751.3,570.6" fill="#B177DE"/>
<polygon points="1801.9,559.1 1812.7,570.4 1801.9,581.6 1791.2,570.4" fill="#B177DE"/>
<polygon points="1841.8,558.8 1852.5,570 1841.8,581.2 1831,570" fill="#B177DE"/>
<polygon points="1881.6,559.8 1892.4,571 1881.6,582.2 1870.9,571" fill="#B177DE"/>
<polygon points="1921.5,555.8 1932.3,567 1921.5,578.2 1910.8,567" fill="#B177DE"/>
<polygon points="1961.4,555.1 1972.1,566.4 1961.4,577.6 1950.6,566.4" fill="#B177DE"/>
<polygon points="2001.3,555.1 2012,566.4 2001.3,577.6 1990.5,566.4" fill="#B177DE"/>
</g>
<g class="b" font-size="38.6" text-anchor="end">
<text transform="translate(1262.4,370) scale(1,1.02)">0.004</text>
<text transform="translate(1262.4,582.9) scale(1,1.02)">0.002</text>
<text transform="translate(1262.4,796.2) scale(1,1.02)">0.000</text>
</g>
<g class="b" font-size="37" text-anchor="middle">
<text x="1294.2" y="842">10<tspan font-size="26" dy="-14">2</tspan></text>
<text x="1631.1" y="842">10<tspan font-size="26" dy="-14">3</tspan></text>
<text x="1968" y="842">10<tspan font-size="26" dy="-14">4</tspan></text>
</g>
<text class="b" font-size="37" x="1750.6" y="888" text-anchor="middle" letter-spacing="0.62">Frequency/Hz</text>
<text class="b" font-size="37" transform="translate(1149,525) rotate(-90) scale(1.05,1)" text-anchor="middle">Dilectric loss</text>
</g>
</svg></body></html>
